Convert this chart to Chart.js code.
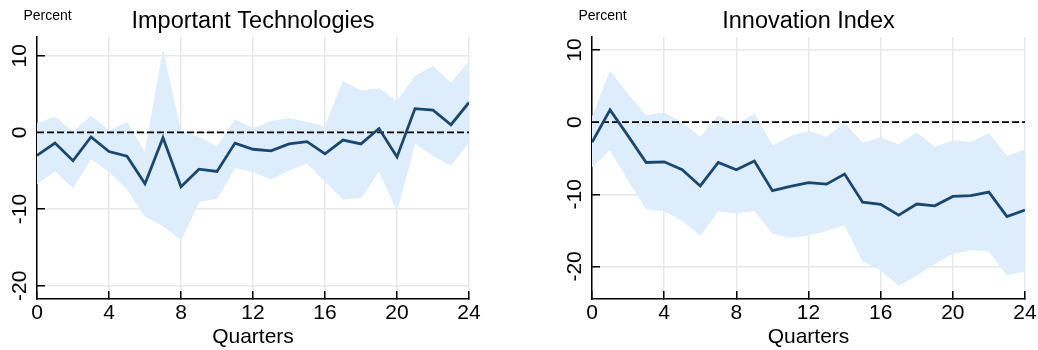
<!DOCTYPE html>
<html>
<head>
<meta charset="utf-8">
<script src="https://cdn.jsdelivr.net/npm/chart.js@4.4.1/dist/chart.umd.min.js"></script>
<style>
  html, body { margin: 0; padding: 0; background: #fff; }
  .panel { position: absolute; top: 0; width: 519px; height: 350px; }
  #leftPanel { left: 0; }
  #rightPanel { left: 519px; }
</style>
</head>
<body>
<div class="panel" id="leftPanel"><canvas id="techChart" width="519" height="350"></canvas></div>
<div class="panel" id="rightPanel"><canvas id="innovChart" width="519" height="350"></canvas></div>
<script>
// ===== data =====
const quarters = [0, 1, 2, 3, 4, 5, 6, 7, 8, 9, 10, 11, 12, 13, 14, 15, 16, 17, 18, 19, 20, 21, 22, 23, 24];
const xTicks = [0, 4, 8, 12, 16, 20, 24];
const yTicks = [-20, -10, 0, 10];
const zeroLevel = 0;

// Important Technologies
const techMean = [-3.0, -1.4, -3.7, -0.6, -2.5, -3.1, -6.7, -0.7, -7.1, -4.8, -5.1, -1.4, -2.2, -2.4, -1.5, -1.2, -2.8, -1.0, -1.5, 0.5, -3.2, 3.1, 2.9, 1.0, 3.9];
const techUpper = [1.1, 2.0, 0.0, 2.1, 0.2, 1.3, -2.7, 10.5, 0.0, -0.6, -1.9, 1.6, 0.5, 1.4, 1.8, 1.3, 0.7, 6.6, 5.4, 5.7, 4.0, 7.3, 8.6, 6.4, 9.2];
const techLower = [-6.7, -5.0, -7.2, -3.4, -5.1, -7.4, -10.9, -12.2, -14.0, -9.0, -8.6, -4.6, -5.1, -6.1, -4.9, -4.0, -6.4, -8.7, -8.5, -5.0, -10.1, -1.4, -3.0, -4.3, -1.2];

// Innovation Index
const innovMean = [-2.8, 1.7, -1.9, -5.6, -5.5, -6.6, -8.85, -5.6, -6.6, -5.4, -9.5, -8.9, -8.4, -8.6, -7.2, -11.1, -11.4, -12.9, -11.35, -11.6, -10.3, -10.2, -9.7, -13.1, -12.2];
const innovUpper = [0.55, 7.0, 3.8, 0.9, 1.25, -0.1, -2.1, 0.9, -0.5, 1.15, -3.3, -2.0, -1.3, -2.1, -0.2, -2.9, -2.2, -3.15, -1.5, -3.5, -2.6, -2.8, -1.6, -4.8, -3.85];
const innovLower = [-6.2, -3.8, -8.0, -12.0, -12.3, -13.6, -15.65, -12.3, -12.6, -12.2, -15.4, -16.0, -15.65, -15.0, -14.2, -19.2, -20.5, -22.6, -21.2, -19.6, -18.2, -17.7, -17.8, -21.2, -20.6];

const FONT = '"Liberation Sans", Arial, sans-serif';
const LINE_COLOR = '#1a476f';
const BAND_COLOR = '#ddedfc';
const GRID_COLOR = '#e8e8e8';

// title + "Percent" label placed against the plot area
const panelText = {
  id: 'panelText',
  afterDraw(chart, args, opts) {
    const { ctx, chartArea } = chart;
    ctx.save();
    ctx.fillStyle = '#000';
    ctx.textBaseline = 'alphabetic';
    ctx.textAlign = 'left';
    ctx.font = '14px ' + FONT;
    ctx.fillText('Percent', chartArea.left - 13.5, 19.5);
    ctx.textAlign = 'center';
    ctx.font = '23.5px ' + FONT;
    ctx.fillText(opts.title, (chartArea.left + chartArea.right) / 2, 27.5);
    ctx.restore();
  }
};

function buildPanel(canvasId, title, mean, upper, lower, yMin, yMax, yAxisWidth, rightPad) {
  const tickFont = { family: FONT, size: 21 };
  return new Chart(document.getElementById(canvasId), {
    type: 'line',
    data: {
      labels: quarters,
      datasets: [
        { data: mean, borderColor: LINE_COLOR, borderWidth: 2.8, pointRadius: 0, fill: false, tension: 0 },
        { data: quarters.map(() => zeroLevel), borderColor: '#000', borderWidth: 1.8, borderDash: [7, 3], pointRadius: 0, fill: false },
        { data: upper, borderColor: BAND_COLOR, borderWidth: 1, backgroundColor: BAND_COLOR, pointRadius: 0, fill: '+1' },
        { data: lower, borderColor: BAND_COLOR, borderWidth: 1, pointRadius: 0, fill: false }
      ]
    },
    options: {
      responsive: false,
      animation: false,
      devicePixelRatio: 1,
      layout: { padding: { top: 37, right: rightPad, left: 0, bottom: 0 } },
      plugins: { legend: { display: false }, tooltip: { enabled: false }, panelText: { title } },
      scales: {
        x: {
          type: 'linear', min: 0, max: 24,
          afterBuildTicks: s => { s.ticks = xTicks.map(v => ({ value: v })); },
          afterFit: s => { s.height = 51; s.paddingLeft = 0; s.paddingRight = 0; },
          grid: { color: GRID_COLOR, lineWidth: 1.5, tickLength: -8, tickColor: '#000', tickWidth: 1.5 },
          border: { color: '#000', width: 1.5 },
          ticks: { color: '#000', font: tickFont, padding: 10, minRotation: 0, maxRotation: 0 },
          title: { display: true, text: 'Quarters', color: '#000', font: tickFont, padding: { top: 0, bottom: 0 } }
        },
        y: {
          min: yMin, max: yMax,
          afterBuildTicks: s => { s.ticks = yTicks.map(v => ({ value: v })); },
          afterFit: s => { s.width = yAxisWidth; s.paddingTop = 0; s.paddingBottom = 0; },
          grid: { color: GRID_COLOR, lineWidth: 1.5, tickLength: -8, tickColor: '#000', tickWidth: 1.5 },
          border: { color: '#000', width: 1.5 },
          ticks: { color: '#000', font: tickFont, padding: 10, minRotation: 90, maxRotation: 90, crossAlign: 'center' }
        }
      }
    },
    plugins: [panelText]
  });
}

buildPanel('techChart', 'Important Technologies', techMean, techUpper, techLower, -21.73, 12.44, 37, 50);
buildPanel('innovChart', 'Innovation Index', innovMean, innovUpper, innovLower, -24.52, 11.8, 73, 13);
</script>
</body>
</html>
